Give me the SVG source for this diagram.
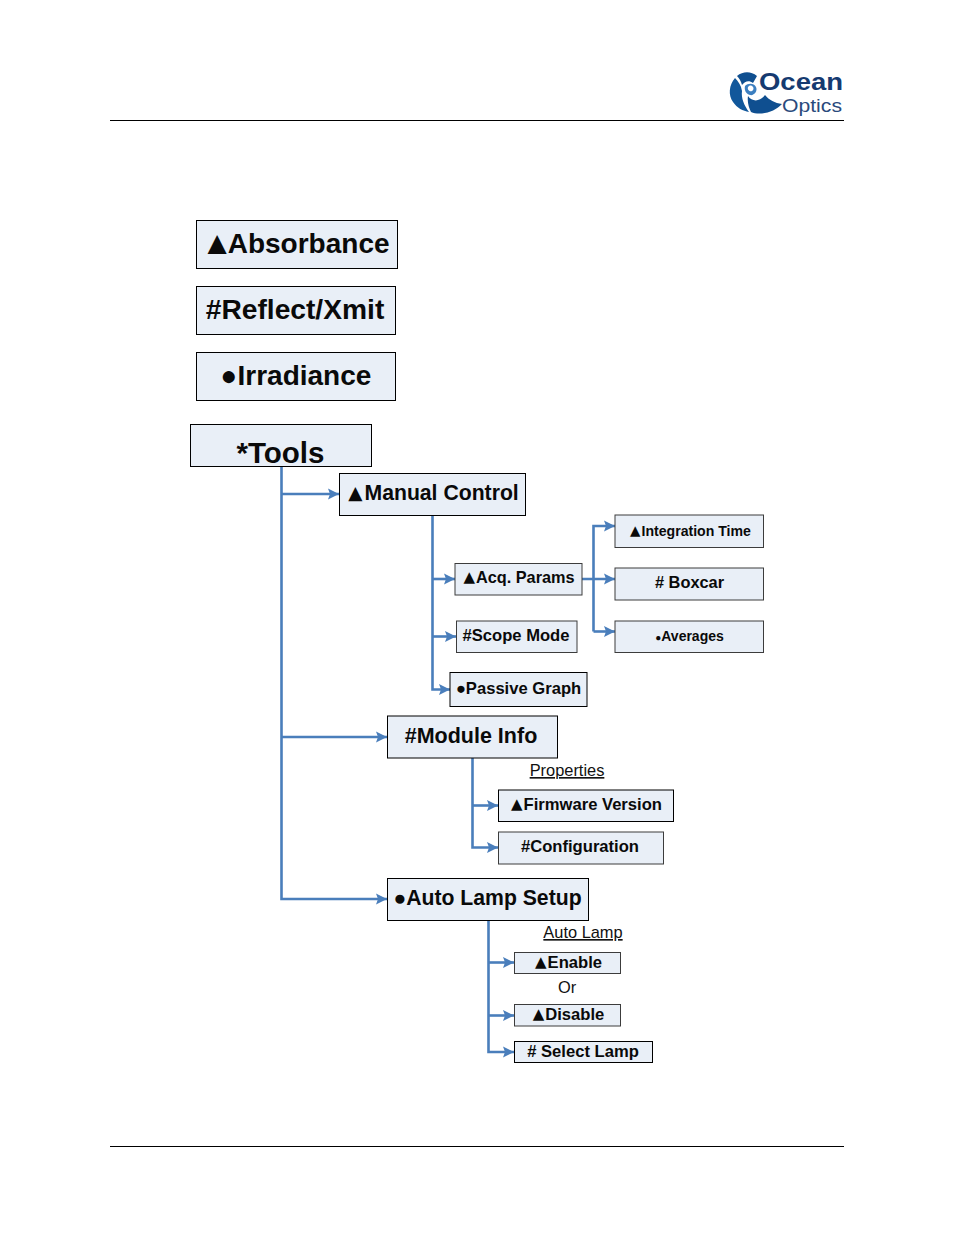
<svg xmlns="http://www.w3.org/2000/svg" width="954" height="1235" viewBox="0 0 954 1235">
<style>
.n{fill:#e9eff7;stroke:#000;stroke-width:1}
.g{fill:#e9eff7;stroke:#3c3c3c;stroke-width:1}
text{font-family:"Liberation Sans",Arial,"DejaVu Sans",sans-serif;fill:#000}
.b{font-weight:bold;text-anchor:middle;fill:#0a0a0a}
.t{font-family:"DejaVu Sans",sans-serif;font-weight:normal}
.p{font-size:16.400px;fill:#111}
.c{fill:none;stroke:#4a7ebb;stroke-width:2.600}
.u{text-decoration:underline;text-anchor:middle}
</style>
<defs>
<marker id="a" markerUnits="userSpaceOnUse" markerWidth="13" markerHeight="12" refX="11" refY="6" orient="auto"><path d="M0 0.500L11 6L0 11.500L2 6Z" fill="#4a7ebb"/></marker>
</defs>
<rect width="954" height="1235" fill="#fff"/>
<g id="page-rules" stroke="#000" stroke-width="1"><path d="M110 120.500H844M110 1146.500H844"/></g>
<g id="logo">
<path d="M748 96C752 102 760 102 765 95C769 100 775 103 782 104C775 112 760 116 751 112C749 108 747 102 748 96Z" fill="#0f4f90"/>
<path d="M735 78C729 85 728 95 733 102C737 108 743 111 749 112C744 105 741 98 742 91C741 85 738 81 735 78Z" fill="#11579b"/>
<path d="M737 76C743 71 751 71 757 76L753 83C749 80 745 81 742 85C741 81 739 78 737 76Z" fill="#0f4f90"/>
<path d="M745 86C748 83 754 83 756 87C758 91 754 96 750 95C746 94 744 90 745 86ZM748 87C747 90 750 92 752 91C754 90 754 87 752 86C750 85 749 86 748 87Z" fill="#3c7fc0"/>
<text x="759" y="90" font-size="24.500" font-weight="bold" style="fill:#153a70" textLength="84" lengthAdjust="spacingAndGlyphs">Ocean</text>
<text x="782" y="111.500" font-size="18" style="fill:#2a4a7c" textLength="60" lengthAdjust="spacingAndGlyphs">Optics</text>
</g>
<g id="connectors">
<path class="c" d="M281.500 467V899H387" marker-end="url(#a)"/>
<path class="c" d="M281.500 494H339" marker-end="url(#a)"/>
<path class="c" d="M281.500 737H387" marker-end="url(#a)"/>
<path class="c" d="M432.500 516V689.500H450" marker-end="url(#a)"/>
<path class="c" d="M432.500 579H455" marker-end="url(#a)"/>
<path class="c" d="M432.500 636.500H456" marker-end="url(#a)"/>
<path class="c" d="M582 579H615" marker-end="url(#a)"/>
<path class="c" d="M593.500 631.500V526H615" marker-end="url(#a)"/>
<path class="c" d="M593.500 631.500H615" marker-end="url(#a)"/>
<path class="c" d="M472.500 758V847.500H498" marker-end="url(#a)"/>
<path class="c" d="M472.500 805.500H498" marker-end="url(#a)"/>
<path class="c" d="M488.500 921V1052H514" marker-end="url(#a)"/>
<path class="c" d="M488.500 962.500H514" marker-end="url(#a)"/>
<path class="c" d="M488.500 1015.500H514" marker-end="url(#a)"/>
</g>
<g id="absorbance"><rect class="n" x="196.500" y="220.500" width="201" height="48"/><text class="b" x="298.500" y="253" font-size="28"><tspan class="t" font-size="25" dy="-2.500">▲</tspan><tspan dx="1" dy="2.500">Absorbance</tspan></text></g>
<g id="reflect"><rect class="n" x="196.500" y="286.500" width="199" height="48"/><text class="b" x="295" y="319" font-size="28.200">#Reflect/Xmit</text></g>
<g id="irradiance"><rect class="n" x="196.500" y="352.500" width="199" height="48"/><text class="b" x="296" y="385" font-size="28">●Irradiance</text></g>
<g id="tools"><rect class="n" x="190.500" y="424.500" width="181" height="42"/><text class="b" x="280.500" y="462.500" font-size="29.500">*Tools</text></g>
<g id="manual-control"><rect class="n" x="339.500" y="473.500" width="186" height="42"/><text class="b" x="433.500" y="500" font-size="21.200"><tspan class="t" font-size="18.500" dy="-1.500">▲</tspan><tspan dx="2" dy="1.500">Manual Control</tspan></text></g>
<g id="acq-params"><rect class="g" x="455" y="563.500" width="127" height="31.500"/><text class="b" x="519" y="583" font-size="16.300"><tspan class="t" font-size="15" dy="-1">▲</tspan><tspan dx="1" dy="1">Acq. Params</tspan></text></g>
<g id="scope-mode"><rect class="g" x="456.500" y="621" width="120.500" height="31.500"/><text class="b" x="516" y="641" font-size="16.600">#Scope Mode</text></g>
<g id="passive-graph"><rect class="n" x="450" y="672.500" width="137" height="34"/><text class="b" x="518.500" y="694" font-size="16.600">●Passive Graph</text></g>
<g id="integration-time"><rect class="g" x="615" y="515" width="148.500" height="32.500"/><text class="b" x="690.500" y="536" font-size="14.100"><tspan class="t" font-size="13.500" dy="-1">▲</tspan><tspan dx="1" dy="1">Integration Time</tspan></text></g>
<g id="boxcar"><rect class="g" x="615" y="568" width="148.500" height="32"/><text class="b" x="689.500" y="588" font-size="16.400"># Boxcar</text></g>
<g id="averages"><rect class="g" x="615" y="621" width="148.500" height="31.500"/><text class="b" x="689.500" y="640.500" font-size="14"><tspan font-size="10">●</tspan>Averages</text></g>
<g id="module-info"><rect class="n" x="387.500" y="716" width="170" height="42"/><text class="b" x="471" y="743" font-size="21.500">#Module Info</text></g>
<text class="p u" x="567" y="776">Properties</text>
<g id="firmware-version"><rect class="n" x="498.500" y="790" width="175" height="31.500"/><text class="b" x="586.500" y="810" font-size="16.600"><tspan class="t" font-size="15" dy="-1">▲</tspan><tspan dx="1" dy="1">Firmware Version</tspan></text></g>
<g id="configuration"><rect class="g" x="498.500" y="832" width="165" height="32"/><text class="b" x="580" y="852" font-size="16.600">#Configuration</text></g>
<g id="auto-lamp-setup"><rect class="n" x="387.500" y="878.500" width="201" height="42"/><text class="b" x="487.500" y="905" font-size="21.200">●Auto Lamp Setup</text></g>
<text class="p u" x="583" y="938">Auto Lamp</text>
<g id="enable"><rect class="g" x="514.500" y="952.500" width="106" height="21"/><text class="b" x="568.500" y="967.500" font-size="16.600"><tspan class="t" font-size="15" dy="-1">▲</tspan><tspan dx="1" dy="1">Enable</tspan></text></g>
<text class="p" x="567" y="993" text-anchor="middle">Or</text>
<g id="disable"><rect class="g" x="514.500" y="1004.500" width="106" height="21.500"/><text class="b" x="568.500" y="1020" font-size="16.600"><tspan class="t" font-size="15" dy="-1">▲</tspan><tspan dx="1" dy="1">Disable</tspan></text></g>
<g id="select-lamp"><rect class="n" x="514.500" y="1041.500" width="138" height="21"/><text class="b" x="583" y="1057" font-size="16.600"># Select Lamp</text></g>
</svg>
